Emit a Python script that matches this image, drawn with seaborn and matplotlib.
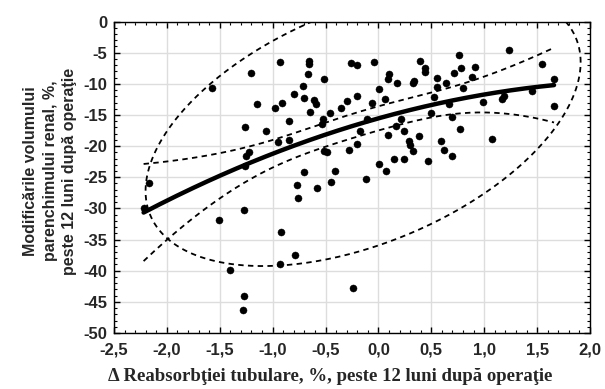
import numpy as np
import pandas as pd
import matplotlib
matplotlib.use("Agg")
import matplotlib.pyplot as plt
import seaborn as sns
from matplotlib.ticker import MultipleLocator, FuncFormatter

# Δ tubular reabsorption (%) and change of renal parenchyma volume (%)
delta_reabs = [
    -2.17, -2.22, -1.57, -1.51, -1.27, -1.40, -1.27, -1.28, -1.20, -1.15,
    -1.26, -1.22, -1.25, -1.26, -0.93, -0.66, -0.66, -0.67, -0.51, -0.26,
    -0.20, -0.71, -0.80, -0.70, -0.61, -0.59, -0.20, -0.30, -0.91, -0.98,
    -0.65, -0.35, -0.46, -0.52, -0.53, -0.85, -1.06, -0.17, -0.11, -0.95,
    -0.85, -0.20, -0.51, -0.49, -0.28, -0.70, -0.41, -0.77, -0.76, -0.58,
    -0.45, -0.12, -0.92, -0.79, -0.93, -0.24, -0.06, -0.04, 0.01, 0.06,
    0.09, 0.01, 0.07, 0.10, 0.09, 0.18, 0.34, 0.33, 0.39, 0.44,
    0.44, 0.55, 0.55, 0.64, 0.71, 0.76, 0.78, 0.91, 0.88, 0.80,
    0.53, 0.67, 0.99, 1.17, 1.19, 1.45, 1.23, 1.55, 1.66, 1.66,
    1.07, 0.21, 0.50, 0.70, 0.17, 0.24, 0.77, 0.38, 0.29, 0.30,
    0.59, 0.33, 0.62, 0.70, 0.15, 0.24, 0.47,
]
delta_volume = [
    -25.9, -30.0, -10.6, -31.8, -30.3, -39.9, -44.0, -46.3, -8.2, -13.2,
    -17.0, -20.9, -21.6, -23.2, -6.5, -6.4, -6.8, -8.5, -9.3, -6.7,
    -7.0, -10.4, -11.6, -12.2, -12.6, -13.2, -11.9, -12.7, -13.0, -13.8,
    -14.5, -13.9, -14.7, -15.6, -16.5, -15.9, -17.5, -17.5, -15.7, -19.3,
    -19.0, -19.6, -20.8, -20.9, -20.7, -24.1, -24.0, -26.2, -28.4, -26.8,
    -25.8, -25.2, -33.8, -37.4, -39.0, -42.8, -13.0, -6.5, -10.8, -12.5,
    -18.2, -22.8, -24.0, -8.4, -9.3, -9.9, -9.5, -9.8, -6.3, -7.5,
    -8.1, -9.1, -10.5, -9.9, -8.2, -5.3, -7.4, -7.3, -8.9, -10.6,
    -12.1, -13.2, -12.9, -12.4, -12.0, -11.1, -4.5, -6.8, -9.3, -13.5,
    -18.9, -15.6, -14.7, -15.3, -16.8, -17.5, -17.3, -18.4, -19.2, -19.8,
    -19.1, -20.8, -20.7, -21.6, -22.1, -22.1, -22.4,
]
x_ticks = [-2.5, -2.0, -1.5, -1.0, -0.5, 0.0, 0.5, 1.0, 1.5, 2.0]
y_ticks = [0, -5, -10, -15, -20, -25, -30, -35, -40, -45, -50]
x_label = "Δ Reabsorbţiei tubulare, %, peste 12 luni după operaţie"
y_label = "Modificările volumului\nparenchimului renal, %,\npeste 12 luni după operaţie"

df = pd.DataFrame({"x": delta_reabs, "y": delta_volume})
x = df["x"].to_numpy()
y = df["y"].to_numpy()
n = len(x)

# quadratic regression with 95% confidence band of the mean
X = np.column_stack([np.ones(n), x, x ** 2])
beta, *_ = np.linalg.lstsq(X, y, rcond=None)
resid = y - X @ beta
s2 = resid @ resid / (n - 3)
XtX_inv = np.linalg.inv(X.T @ X)
t_crit = 1.983
xg = np.linspace(x.min(), x.max(), 200)
Xg = np.column_stack([np.ones_like(xg), xg, xg ** 2])
yg = Xg @ beta
se = np.sqrt(s2 * np.einsum("ij,jk,ik->i", Xg, XtX_inv, Xg))
fit = pd.DataFrame({"x": xg, "y": yg, "lo": yg - t_crit * se, "hi": yg + t_crit * se})

# 95% prediction ellipse (F-based)
mu = np.array([x.mean(), y.mean()])
cov = np.cov(np.vstack([x, y]))
L = np.linalg.cholesky(cov)
nu = n - 2
F95 = nu / 2 * (0.05 ** (-2 / nu) - 1)
k = np.sqrt(2 * (n - 1) * (n + 1) / (n * (n - 2)) * F95)
tt = np.linspace(0, 2 * np.pi, 400)
ell = mu[:, None] + k * (L @ np.vstack([np.cos(tt), np.sin(tt)]))
ell_df = pd.DataFrame({"x": ell[0], "y": ell[1]})

sns.set_style("ticks")
plt.rcParams["font.family"] = ["Liberation Sans", "DejaVu Sans"]

fig = plt.figure(figsize=(6.05, 3.89), dpi=100)
ax = fig.add_axes([0.1884, 0.144, 0.7868, 0.8006])

dash = (0, (3, 2.4))
ax.plot(ell_df["x"], ell_df["y"], color="black", lw=1.3, linestyle=dash, zorder=3)
ax.plot(fit["x"], fit["lo"], color="black", lw=1.3, linestyle=dash, zorder=3)
ax.plot(fit["x"], fit["hi"], color="black", lw=1.3, linestyle=dash, zorder=3)
sns.lineplot(data=fit, x="x", y="y", ax=ax, color="black", lw=3.2, zorder=4,
             sort=False, estimator=None)
sns.scatterplot(data=df, x="x", y="y", ax=ax, color="black", s=26,
                edgecolor="black", linewidth=0.3, zorder=5)

ax.set_xlim(-2.5, 2.0)
ax.set_ylim(-50, 0)
ax.set_xticks(x_ticks)
ax.set_yticks(y_ticks)
ax.xaxis.set_minor_locator(MultipleLocator(0.1))
ax.yaxis.set_minor_locator(MultipleLocator(1))
ax.xaxis.set_major_formatter(FuncFormatter(lambda v, p: f"{v:.1f}".replace(".", ",").replace("-0,0", "0,0")))
ax.yaxis.set_major_formatter(FuncFormatter(lambda v, p: f"{v:.0f}"))
ax.grid(True, which="major", color="#dddddd", lw=1.0, zorder=0)
ax.set_axisbelow(True)
ax.tick_params(which="both", direction="in", top=True, right=True, color="black")
ax.tick_params(which="major", length=4, width=1, labelsize=12)
ax.tick_params(axis="x", which="major", pad=7)
ax.tick_params(axis="y", which="major", pad=5)
ax.tick_params(which="minor", length=2, width=0.8)
for lab in ax.get_xticklabels() + ax.get_yticklabels():
    lab.set_fontweight("bold")
for sp in ax.spines.values():
    sp.set_color("black")
    sp.set_linewidth(1.0)

ax.set_xlabel(x_label, fontsize=13.5, fontweight="bold",
              family=["Liberation Serif", "DejaVu Serif"])
ax.xaxis.set_label_coords(0.454, -0.112)
ax.set_ylabel(y_label, fontsize=11.5, fontweight="bold", linespacing=1.35)
ax.yaxis.set_label_coords(-0.078, 0.52)

fig.savefig("out.png", dpi=100, facecolor="white")
